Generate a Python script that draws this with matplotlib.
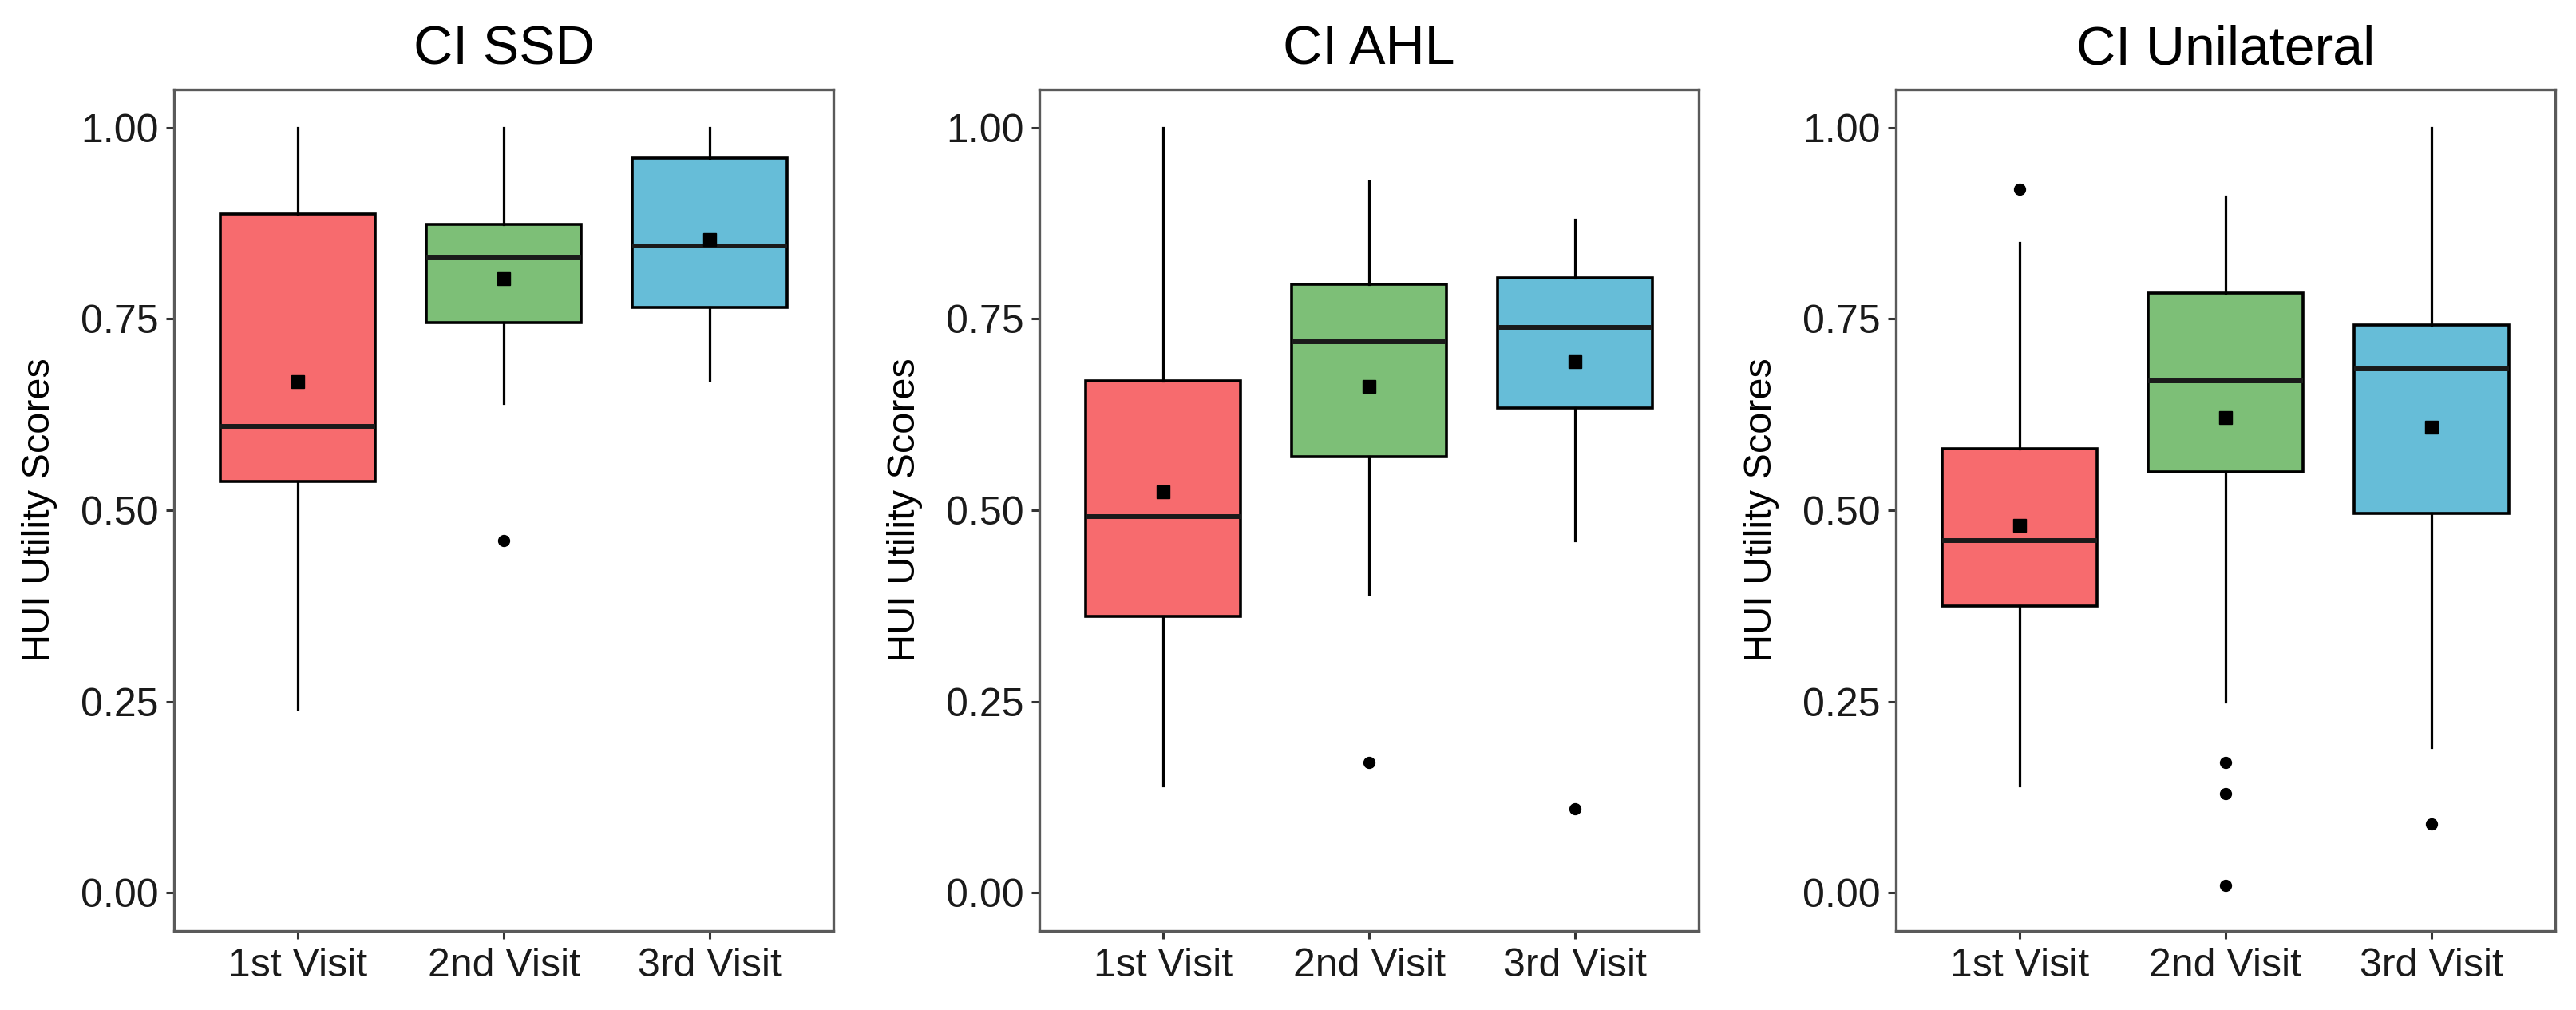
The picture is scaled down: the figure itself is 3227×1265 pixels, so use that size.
import matplotlib
matplotlib.use("Agg")
import matplotlib.pyplot as plt

plt.rcParams['font.family'] = ['Liberation Sans', 'DejaVu Sans']

groups = ["CI SSD", "CI AHL", "CI Unilateral"]
visits = ["1st Visit", "2nd Visit", "3rd Visit"]
colors = ["#F76B6E", "#7DBF77", "#66BDD8"]

# one row per panel, one value per visit
whisk_lo = [[0.24, 0.64, 0.67],
            [0.14, 0.39, 0.46],
            [0.14, 0.25, 0.19]]
q1 = [[0.538, 0.745, 0.765],
      [0.361, 0.570, 0.634],
      [0.375, 0.550, 0.496]]
median = [[0.610, 0.830, 0.845],
          [0.492, 0.720, 0.739],
          [0.460, 0.669, 0.685]]
q3 = [[0.887, 0.874, 0.960],
      [0.669, 0.795, 0.804],
      [0.580, 0.784, 0.742]]
whisk_hi = [[1.00, 1.00, 1.00],
            [1.00, 0.93, 0.88],
            [0.85, 0.91, 1.00]]
means = [[0.668, 0.803, 0.854],
         [0.524, 0.662, 0.694],
         [0.480, 0.621, 0.609]]
outliers = [[[], [0.46], []],
            [[], [0.17], [0.11]],
            [[0.92], [0.17, 0.13, 0.01], [0.09]]]

yticks = [0.00, 0.25, 0.50, 0.75, 1.00]

fig = plt.figure(figsize=(32.27, 12.65), dpi=100)
lefts = [218, 1302, 2375]

for p in range(3):
    ax = fig.add_axes([lefts[p] / 3227, 99 / 1265, 826 / 3227, 1054 / 1265])
    stats = []
    for i in range(3):
        stats.append(dict(med=median[p][i], q1=q1[p][i], q3=q3[p][i],
                          whislo=whisk_lo[p][i], whishi=whisk_hi[p][i],
                          mean=means[p][i], fliers=outliers[p][i]))
    bp = ax.bxp(stats, positions=[1, 2, 3], widths=0.75, patch_artist=True,
                showcaps=False, showmeans=True,
                boxprops=dict(edgecolor="black", linewidth=2.6),
                medianprops=dict(color="#1a1a1a", linewidth=4.3),
                whiskerprops=dict(color="black", linewidth=2.3),
                meanprops=dict(marker="s", markerfacecolor="black",
                               markeredgecolor="black", markersize=11),
                flierprops=dict(marker="o", markerfacecolor="black",
                                markeredgecolor="black", markersize=10))
    for patch, c in zip(bp["boxes"], colors):
        patch.set_facecolor(c)

    ax.set_xlim(0.4, 3.6)
    ax.set_ylim(-0.05, 1.05)
    ax.set_yticks(yticks)
    ax.set_yticklabels([f"{v:.2f}" for v in yticks])
    ax.set_xticks([1, 2, 3])
    ax.set_xticklabels(visits)
    ax.tick_params(axis="both", labelsize=36, length=7, width=2.2,
                   color="#333333", labelcolor="#1a1a1a")
    ax.tick_params(axis="y", pad=7)
    ax.tick_params(axis="x", pad=8)
    for s in ax.spines.values():
        s.set_color("#5a5a5a")
        s.set_linewidth(2.4)
    ax.set_ylabel("HUI Utility Scores", fontsize=35, labelpad=21)
    ax.set_title(groups[p], fontsize=49, pad=23)

fig.savefig("out.png", dpi=100, facecolor="white")
